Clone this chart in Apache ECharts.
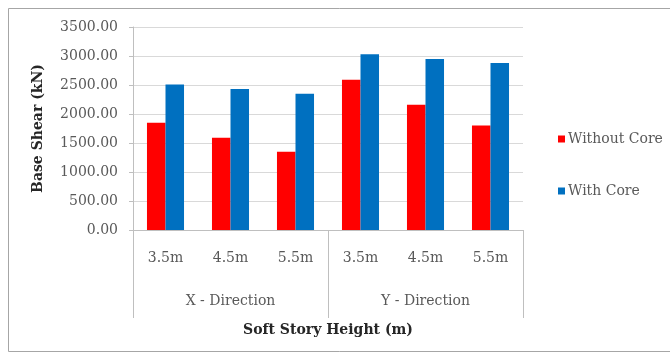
<!DOCTYPE html>
<html>
<head>
<meta charset="utf-8">
<title>Base Shear vs Soft Story Height</title>
<script src="https://cdn.jsdelivr.net/npm/echarts@6/dist/echarts.min.js"></script>
<style>
  html, body { margin: 0; padding: 0; background: #ffffff; }
  #chart { width: 670px; height: 354px; }
</style>
</head>
<body>
<div id="chart"></div>
<script>
// Soft story heights, grouped by analysis direction
const heights = ['3.5m', '4.5m', '5.5m', '3.5m', '4.5m', '5.5m'];
const directions = ['X - Direction', 'Y - Direction'];

// Base shear (kN)
const withoutCore = [1850, 1590, 1350, 2590, 2160, 1800];
const withCore = [2510, 2430, 2350, 3030, 2950, 2880];

const yTicks = { min: 0, max: 3500, interval: 500 };

const serif = '"DejaVu Serif", "Liberation Serif", serif';
const textGray = '#595959';
const gridGray = '#d9d9d9';
const lineGray = '#bfbfbf';

const chart = echarts.init(document.getElementById('chart'), null, { renderer: 'canvas' });

chart.setOption({
  animation: false,
  backgroundColor: '#ffffff',
  graphic: [{
    type: 'rect',
    shape: { x: 8.5, y: 8.5, width: 680, height: 343 },
    style: { fill: 'none', stroke: '#a6a6a6', lineWidth: 1 },
    silent: true
  }],
  legend: {
    orient: 'vertical',
    left: 553,
    top: 127,
    itemWidth: 7,
    itemHeight: 7,
    itemGap: 38,
    icon: 'rect',
    textStyle: { fontFamily: serif, fontSize: 14, color: textGray, padding: [0, 0, 0, -2] },
    data: ['Without Core', 'With Core']
  },
  grid: { left: 133, right: 147, top: 27, bottom: 124, containLabel: false },
  xAxis: [{
    type: 'category',
    data: heights,
    position: 'bottom',
    axisLine: { show: true, lineStyle: { color: lineGray } },
    axisTick: { show: false },
    axisLabel: { fontFamily: serif, fontSize: 14, color: textGray, margin: 21 }
  }, {
    type: 'category',
    data: directions,
    position: 'bottom',
    boundaryGap: true,
    axisLine: { show: false },
    axisTick: { show: true, length: 88, interval: 0, lineStyle: { color: lineGray } },
    axisLabel: { fontFamily: serif, fontSize: 14, color: textGray, margin: 64, interval: 0 },
    name: 'Soft Story Height (m)',
    nameLocation: 'middle',
    nameGap: 93,
    nameTextStyle: { fontFamily: serif, fontSize: 14, fontWeight: 'bold', color: '#262626' }
  }],
  yAxis: {
    type: 'value',
    min: yTicks.min,
    max: yTicks.max,
    interval: yTicks.interval,
    axisLine: { show: true, lineStyle: { color: lineGray } },
    axisTick: { show: true, length: 4, lineStyle: { color: lineGray } },
    splitLine: { lineStyle: { color: gridGray } },
    axisLabel: {
      fontFamily: serif, fontSize: 14, color: textGray, margin: 15,
      formatter: v => v.toFixed(2)
    },
    name: 'Base Shear (kN)',
    nameLocation: 'middle',
    nameGap: 88,
    nameTextStyle: { fontFamily: serif, fontSize: 14, fontWeight: 'bold', color: '#262626' }
  },
  series: [{
    name: 'Without Core',
    type: 'bar',
    xAxisIndex: 0,
    data: withoutCore,
    barGap: '0%',
    barCategoryGap: '43%',
    itemStyle: { color: '#ff0000' }
  }, {
    name: 'With Core',
    type: 'bar',
    xAxisIndex: 0,
    data: withCore,
    barGap: '0%',
    barCategoryGap: '43%',
    itemStyle: { color: '#0070c0' }
  }]
});
</script>
</body>
</html>
